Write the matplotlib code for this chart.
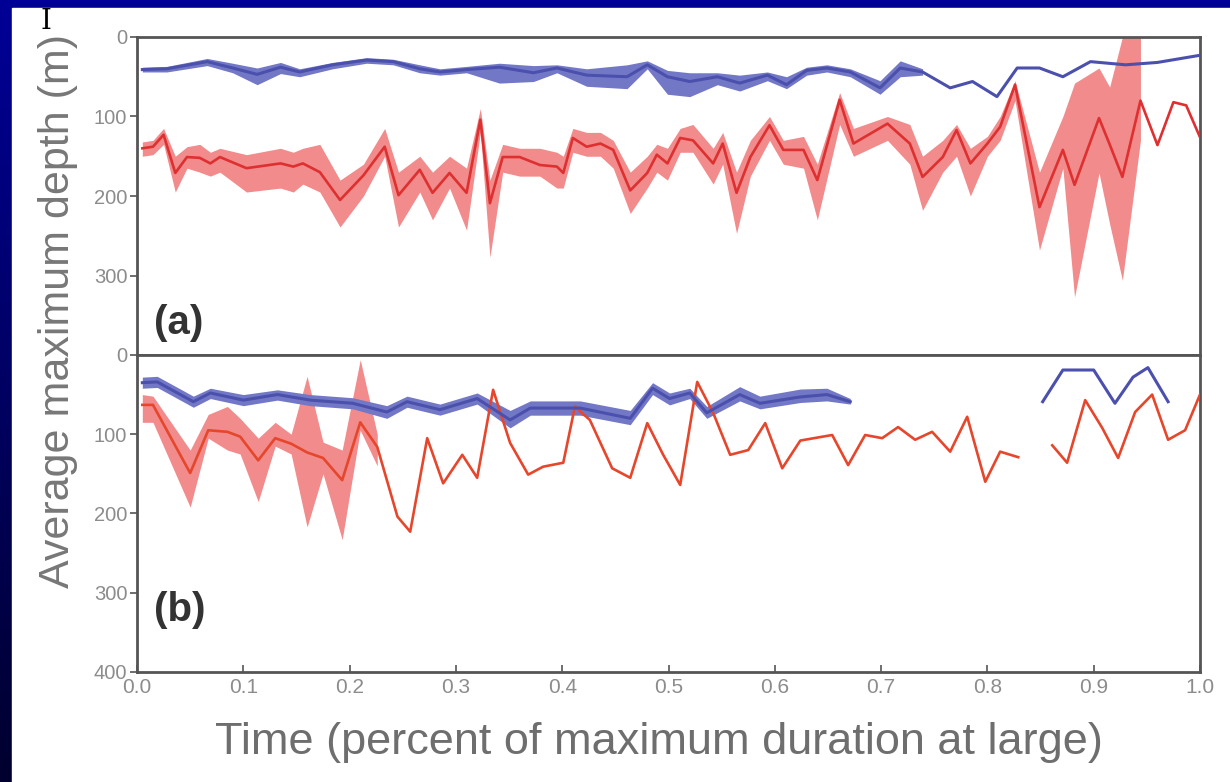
import numpy as np
import matplotlib.pyplot as plt
from matplotlib.patches import Rectangle
from matplotlib.colors import LinearSegmentedColormap

nan = np.nan

# ---- panel (a) ----
a_red_x = [0.005, 0.015, 0.025, 0.036, 0.047, 0.059, 0.069, 0.078, 0.103, 0.135,
           0.147, 0.156, 0.172, 0.191, 0.213, 0.233, 0.246, 0.266, 0.278, 0.294,
           0.31, 0.323, 0.332, 0.344, 0.36, 0.379, 0.395, 0.401, 0.41, 0.423,
           0.436, 0.448, 0.464, 0.48, 0.489, 0.499, 0.511, 0.523, 0.542, 0.551,
           0.564, 0.577, 0.595, 0.608, 0.627, 0.64, 0.661, 0.674, 0.706, 0.727,
           0.739, 0.758, 0.771, 0.784, 0.80, 0.812, 0.826, 0.849, 0.871, 0.882,
           0.905, 0.915, 0.927, 0.944, 0.96, 0.975, 0.987, 1.0]
a_red_mean = [140, 138, 123, 171, 151, 152, 159, 151, 165, 159,
              163, 159, 170, 205, 174, 138, 199, 167, 196, 171,
              196, 104, 209, 151, 151, 161, 163, 171, 127, 138,
              134, 142, 193, 171, 148, 159, 127, 130, 159, 134,
              196, 151, 111, 142, 142, 180, 79, 134, 109, 134,
              176, 151, 117, 159, 134, 113, 60, 214, 142, 186,
              102, 135, 176, 80, 136, 82, 86, 126]
a_red_hi = [132, 130, 115, 150, 138, 135, 145, 140, 148, 140,
            145, 140, 135, 180, 160, 115, 170, 150, 170, 150,
            165, 90, 180, 135, 140, 140, 145, 150, 115, 120,
            120, 130, 170, 150, 135, 140, 115, 110, 140, 120,
            170, 130, 100, 130, 125, 160, 70, 115, 100, 110,
            150, 130, 110, 140, 125, 100, 55, 170, 100, 58,
            39, 63, 0, 0, nan, nan, nan, nan]
a_red_lo = [150, 148, 135, 195, 165, 170, 175, 170, 195, 190,
            195, 185, 195, 239, 200, 150, 239, 195, 230, 190,
            243, 120, 277, 170, 175, 175, 190, 190, 145, 150,
            150, 165, 222, 190, 170, 180, 145, 145, 185, 160,
            247, 175, 130, 160, 165, 230, 110, 150, 130, 160,
            218, 170, 150, 200, 150, 130, 80, 268, 165, 327,
            171, 235, 306, 130, nan, nan, nan, nan]

a_blue_x = [0.005, 0.028, 0.066, 0.09, 0.113, 0.135, 0.153, 0.184, 0.216, 0.241,
            0.266, 0.285, 0.31, 0.341, 0.373, 0.395, 0.423, 0.461, 0.48, 0.499,
            0.52, 0.546, 0.567, 0.593, 0.611, 0.63, 0.649, 0.671, 0.699, 0.718,
            0.739, 0.765, 0.786, 0.809, 0.828, 0.849, 0.871, 0.897, 0.93, 0.96,
            1.0]
a_blue_mean = [41, 40, 31, 39, 47, 38, 44, 35, 29, 31,
               40, 44, 41, 38, 45, 39, 48, 50, 35, 50,
               56, 50, 58, 48, 60, 42, 39, 44, 64, 39,
               44, 64, 56, 75, 39, 39, 50, 31, 35, 32,
               23]
a_blue_hi = [38, 37, 27, 33, 39, 32, 40, 32, 26, 28,
             35, 40, 37, 33, 36, 35, 40, 35, 30, 42,
             45, 45, 48, 44, 50, 38, 35, 40, 55, 30,
             40, nan, nan, nan, nan, nan, nan, nan, nan, nan,
             nan]
a_blue_lo = [44, 44, 36, 45, 60, 46, 50, 40, 33, 35,
             45, 48, 45, 58, 56, 45, 62, 65, 40, 72,
             75, 60, 68, 55, 65, 48, 44, 50, 72, 50,
             48, nan, nan, nan, nan, nan, nan, nan, nan, nan,
             nan]

# ---- panel (b) ----
b_red_x = [0.005, 0.015, 0.05, 0.067, 0.085, 0.097, 0.114, 0.13, 0.145, 0.16,
           0.175, 0.193, 0.21, 0.226, 0.245, 0.257, 0.273, 0.288, 0.306, 0.32,
           0.335, 0.351, 0.368, 0.382, 0.401, 0.412, 0.426, 0.447, 0.464, 0.48,
           0.495, 0.511, 0.527, 0.542, 0.558, 0.575, 0.591, 0.607, 0.624, 0.654,
           0.669, 0.685, 0.701, 0.716, 0.732, 0.748, 0.765, 0.781, 0.798, 0.812,
           0.829, 0.845, 0.861, 0.875, 0.892, 0.908, 0.923, 0.939, 0.955, 0.97,
           0.986, 1.0]
b_red_mean = [63, 63, 149, 95, 97, 103, 133, 105, 112, 123,
              130, 158, 85, 116, 204, 223, 105, 162, 126, 155,
              44, 111, 151, 141, 136, 65, 82, 143, 155, 86,
              126, 164, 34, 73, 126, 120, 86, 143, 108, 101,
              139, 101, 105, 91, 107, 97, 122, 78, 160, 122,
              129, nan, 114, 136, 57, 92, 130, 72, 50, 107,
              95, 50]
b_red_hi = [50, 52, 120, 75, 65, 80, 105, 85, 100, 27, 110, 120, 6, 100] + [nan] * 48
b_red_lo = [85, 85, 192, 105, 120, 125, 185, 115, 125, 217, 150, 233, 95, 140] + [nan] * 48

b_blue_x = [0.005, 0.019, 0.053, 0.069, 0.1, 0.132, 0.163, 0.203, 0.235, 0.254,
            0.285, 0.32, 0.351, 0.37, 0.417, 0.464, 0.485, 0.501, 0.52, 0.536,
            0.567, 0.586, 0.624, 0.649, 0.671, 0.76, 0.852, 0.871, 0.9, 0.92,
            0.937, 0.951, 0.97]
b_blue_mean = [35, 34, 59, 48, 57, 50, 57, 61, 72, 59,
               69, 55, 82, 67, 67, 80, 42, 55, 48, 73,
               50, 61, 53, 50, 59, nan, 59, 19, 19, 61,
               28, 16, 59]
b_blue_hi = [28, 27, 52, 42, 50, 44, 50, 54, 64, 52,
             62, 48, 70, 58, 58, 70, 35, 48, 42, 65,
             40, 52, 43, 42, 55, nan, nan, nan, nan, nan,
             nan, nan, nan]
b_blue_lo = [42, 41, 66, 55, 64, 57, 64, 68, 80, 66,
             76, 62, 92, 76, 76, 88, 50, 63, 55, 80,
             58, 68, 60, 58, 62, nan, nan, nan, nan, nan,
             nan, nan, nan]

xticks = [0.0, 0.1, 0.2, 0.3, 0.4, 0.5, 0.6, 0.7, 0.8, 0.9, 1.0]

RED = '#de3030'
RED_B = '#e6472c'
RED_BAND = '#f28b8b'
BLUE = '#4b50ad'
BLUE_BAND = '#7378c6'
GREY_TXT = '#8c8c8c'
SPINE = '#555555'

plt.rcParams['font.family'] = ['Liberation Sans', 'DejaVu Sans']

fig = plt.figure(figsize=(12.3, 7.82), dpi=100)

# slide background
bg = fig.add_axes([0, 0, 1, 1], zorder=-10)
grad = np.linspace(0, 1, 256).reshape(-1, 1)
bg.imshow(grad, aspect='auto', extent=[0, 1, 0, 1], origin='upper',
          cmap=LinearSegmentedColormap.from_list('navy', ['#000096', '#00002e']))
bg.add_patch(Rectangle((12 / 1230, 0), 1, 1 - 8 / 782, color='white'))
bg.set_xlim(0, 1)
bg.set_ylim(0, 1)
bg.axis('off')

ax_a = fig.add_axes([0.1114, 0.546, 0.8642, 0.4067])
ax_b = fig.add_axes([0.1114, 0.1407, 0.8642, 0.4054])


def draw_panel(ax, red_x, red_m, red_hi, red_lo, blue_x, blue_m, blue_hi, blue_lo, red_col):
    ax.fill_between(red_x, np.array(red_hi, float), np.array(red_lo, float),
                    color=RED_BAND, lw=0, zorder=1)
    ax.fill_between(blue_x, np.array(blue_hi, float), np.array(blue_lo, float),
                    color=BLUE_BAND, lw=0, zorder=2)
    ax.plot(red_x, red_m, color=red_col, lw=1.9, zorder=3)
    ax.plot(blue_x, blue_m, color=BLUE, lw=2.2, zorder=4)
    ax.set_xlim(0, 1)
    ax.set_ylim(400, 0)
    for s in ax.spines.values():
        s.set_color(SPINE)
        s.set_linewidth(2.0)
    ax.tick_params(axis='y', direction='out', length=5, width=1.2, color=SPINE,
                   labelcolor=GREY_TXT, labelsize=14.5, pad=2)


draw_panel(ax_a, a_red_x, a_red_mean, a_red_hi, a_red_lo,
           a_blue_x, a_blue_mean, a_blue_hi, a_blue_lo, RED)
draw_panel(ax_b, b_red_x, b_red_mean, b_red_hi, b_red_lo,
           b_blue_x, b_blue_mean, b_blue_hi, b_blue_lo, RED_B)

ax_a.set_yticks([0, 100, 200, 300])
ax_a.set_xticks([])
ax_b.set_yticks([0, 100, 200, 300, 400])
ax_b.set_xticks(xticks)
ax_b.set_xticklabels(['%.1f' % t for t in xticks])
ax_b.tick_params(axis='x', direction='in', length=5, width=1.2, color=SPINE,
                 labelcolor=GREY_TXT, labelsize=15, pad=4)

ax_a.text(0.016, 0.10, '(a)', transform=ax_a.transAxes, fontsize=29,
          fontweight='bold', color='#333333', ha='left', va='center')
ax_b.text(0.016, 0.195, '(b)', transform=ax_b.transAxes, fontsize=29,
          fontweight='bold', color='#333333', ha='left', va='center')

fig.text(0.047, 0.602, 'Average maximum depth (m)', rotation=90, fontsize=31,
         color='#777777', ha='center', va='center')
fig.text(0.536, 0.051, 'Time (percent of maximum duration at large)', fontsize=32.5,
         color='#6e6e6e', ha='center', va='center')
fig.text(0.037, 0.972, 'I', family='DejaVu Serif', fontsize=20, color='black',
         ha='center', va='center')

fig.savefig('out.png', dpi=100)
